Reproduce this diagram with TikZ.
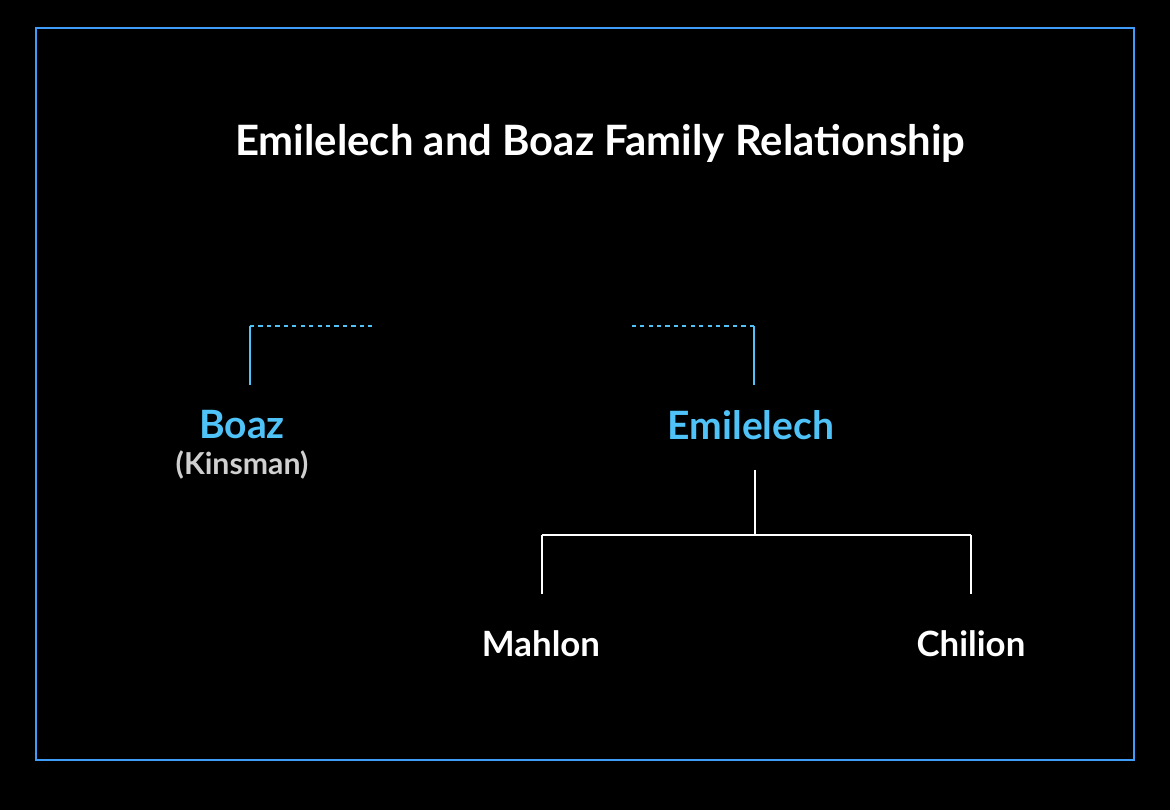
\documentclass[tikz,border=0pt]{standalone}
\usepackage{fontspec}
\setmainfont{Lato}
\usetikzlibrary{positioning}
\definecolor{skyline}{HTML}{4FC3F7}
\definecolor{greytext}{HTML}{D0D0D0}
\tikzset{
  person/.style={font=\bfseries\fontsize{9.9}{11}\selectfont, inner sep=0pt},
  kin/.style={person, text=skyline, font=\bfseries\fontsize{11.1}{12}\selectfont},
  treeline/.style={white, line width=0.7pt},
  kinline/.style={skyline, line width=0.7pt},
  dotline/.style={skyline, line width=0.7pt, dash pattern=on 1.2pt off 1.2pt}
}
\begin{document}
\begin{tikzpicture}[x=0.01cm, y=-0.01cm]
\fill[black] (0,0) rectangle (1170,810);
\useasboundingbox (0,0) rectangle (1170,810);
\draw[skyline!80!blue, line width=0.4pt] (36,28) rectangle (1134,760);
\node[person, text=white, font=\bfseries\fontsize{11.9}{13}\selectfont] (title) at (600,143) {Emilelech and Boaz Family Relationship};
% left branch
\node[kin] (boaz) at (242,425) {Boaz};
\node[inner sep=0pt, text=greytext, font=\bfseries\fontsize{8.6}{9}\selectfont] (kinsman) at (242,465) {(Kinsman)};
\coordinate (bz) at (250,385);
\coordinate (bzt) at (250,326);
\coordinate (bzd) at (374,326);
\draw[kinline] (bz) -- (bzt);
\draw[dotline] (bzt) -- (bzd);
% right branch
\node[kin] (emil) at (751,425) {Emilelech};
\coordinate (em) at (754,385);
\coordinate (emt) at (754,326);
\coordinate (emd) at (631,326);
\draw[kinline] (em) -- (emt);
\draw[dotline] (emt) -- (emd);
% sons
\node[person, text=white] (mahlon) at (541,644) {Mahlon};
\node[person, text=white] (chilion) at (971,644) {Chilion};
\coordinate (ml) at (542,535);
\coordinate (cl) at (971,535);
\draw[treeline] (755,470) -- (755,535);
\draw[treeline] (ml) -- (cl);
\draw[treeline] (ml) -- (542,594);
\draw[treeline] (cl) -- (971,594);
\end{tikzpicture}
\end{document}
